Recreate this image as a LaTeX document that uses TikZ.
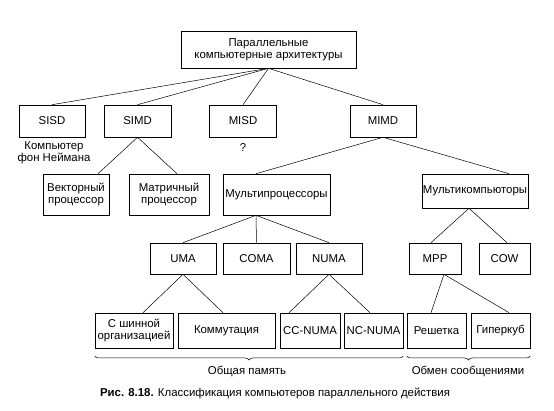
\documentclass[tikz,border=0pt]{standalone}
\usepackage{fontspec}
\setmainfont{Liberation Sans}
\usetikzlibrary{decorations.pathreplacing}

\begin{document}
\begin{tikzpicture}[
            x=1pt, y=-1pt,
            font=\fontsize{11.4}{12.2}\selectfont,
            box/.style={draw, line width=0.6pt, inner sep=1pt, align=center},
            link/.style={line width=0.5pt},
            bracket/.style={decorate, decoration={brace, mirror, amplitude=4pt}, line width=0.5pt}
            ]
            \useasboundingbox (0,0) rectangle (554,411);

            \node[box, minimum width=175, minimum height=37] (top) at (268.5,49.5) {Параллельные\\компьютерные архитектуры};

            \node[box, minimum width=66, minimum height=32] (sisd) at (52,121) {SISD};
            \node[box, minimum width=67, minimum height=32] (simd) at (137.5,121) {SIMD};
            \node[box, minimum width=67, minimum height=32] (misd) at (243,121) {MISD};
            \node[box, minimum width=66, minimum height=32] (mimd) at (383,121) {MIMD};

            \node[align=center] (vonneumann) at (54,152.5) {Компьютер\\фон Неймана};
            \node (question) at (243,148) {?};

            \node[box, minimum width=66, minimum height=41] (vect) at (76,194.5) {Векторный\\процессор};
            \node[box, minimum width=80, minimum height=41] (matr) at (169,194.5) {Матричный\\процессор};
            \node[box, minimum width=107, minimum height=41] (mproc) at (276.5,194.5) {Мультипроцессоры};
            \node[box, minimum width=106, minimum height=34] (mcomp) at (475,191) {Мультикомпьюторы};

            \node[box, minimum width=66, minimum height=31] (uma) at (183,258.5) {UMA};
            \node[box, minimum width=67, minimum height=31] (coma) at (256.5,258.5) {COMA};
            \node[box, minimum width=66, minimum height=31] (numa) at (329,258.5) {NUMA};
            \node[box, minimum width=52, minimum height=31] (mpp) at (435,258.5) {MPP};
            \node[box, minimum width=51, minimum height=31] (cow) at (504.5,258.5) {COW};

            \node[box, minimum width=78, minimum height=35] (bus) at (134,330.5) {С шинной\\организацией};
            \node[box, minimum width=97, minimum height=35] (switch) at (226.5,330.5) {Коммутация};
            \node[box, minimum width=60, minimum height=35] (ccnuma) at (310,330.5) {CC-NUMA};
            \node[box, minimum width=59, minimum height=35] (ncnuma) at (373.5,330.5) {NC-NUMA};
            \node[box, minimum width=59, minimum height=35] (mesh) at (436.5,330.5) {Решетка};
            \node[box, minimum width=59, minimum height=35] (hcube) at (500.5,330.5) {Гиперкуб};

            \draw[link] (top.south) -- (sisd.north);
            \draw[link] (top.south) -- (simd.north);
            \draw[link] (top.south) -- (misd.north);
            \draw[link] (top.south) -- (mimd.north);

            \draw[link] ([xshift=22]vect.north) -- (simd.south) -- ([xshift=8]matr.north);
            \draw[link] ([xshift=-20.5]mproc.north) -- (mimd.south) -- ([xshift=34]mcomp.north);

            \draw[link] (uma.north) -- ([xshift=-20.5]mproc.south) -- (numa.north);
            \draw[link] ([xshift=-20.5]mproc.south) -- (coma.north);
            \draw[link] ([xshift=-4]mpp.north) -- ([xshift=-6]mcomp.south) -- ([xshift=2.5]cow.north);

            \draw[link] ([xshift=9]bus.north) -- (uma.south) -- ([xshift=-3.5]switch.north);
            \draw[link] ([xshift=-21]ccnuma.north) -- (numa.south) -- ([xshift=-3.5]ncnuma.north);
            \draw[link] ([xshift=-5.5]mesh.north) -- ([xshift=9]mpp.south) -- ([xshift=8.5]hcube.north);

            % braces under the bottom row
            \draw[bracket] (bus.south west |- 0,356) -- (ncnuma.south east |- 0,356);
            \draw[bracket] (mesh.south west |- 0,356) -- (hcube.south east |- 0,356);
            \node (shmem) at (247,371) {Общая память};
            \node (msgpass) at (468,371) {Обмен сообщениями};

            \node (caption) at (275,393.5) {\textbf{Рис. 8.18.} Классификация компьютеров параллельного действия};
\end{tikzpicture}
\end{document}
